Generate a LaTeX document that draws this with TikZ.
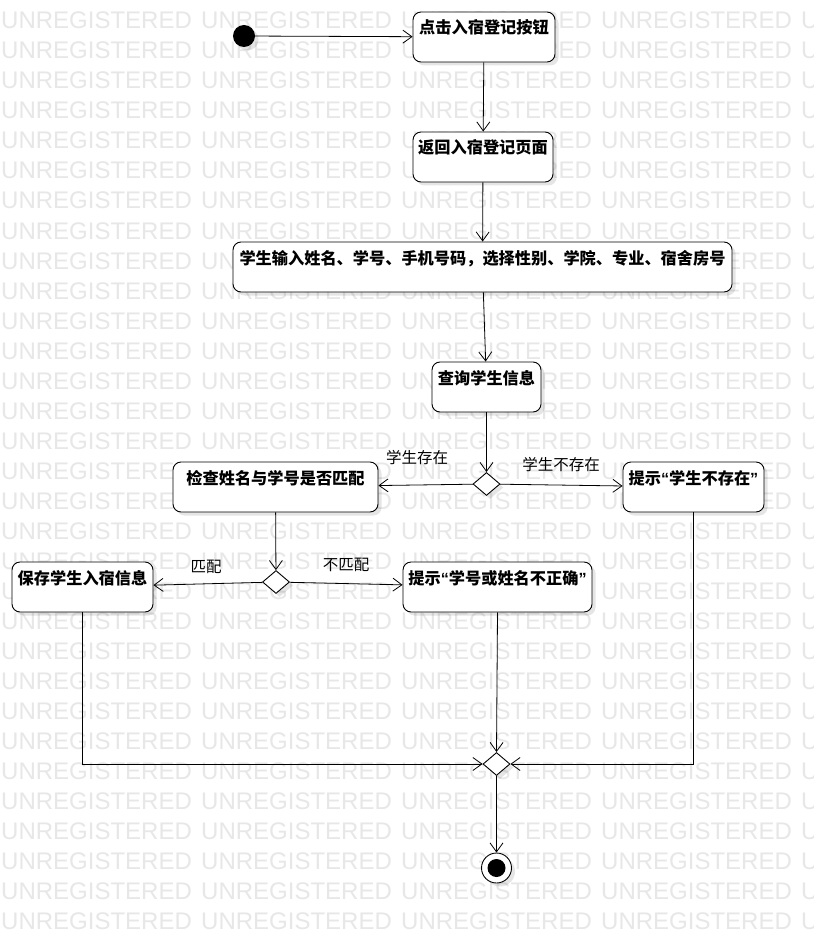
\documentclass[tikz,border=0pt]{standalone}
\usepackage{fontspec}
\setmainfont{Noto Sans CJK SC}
\newfontfamily\qf{Liberation Sans}
\newfontfamily\wmf{Liberation Sans}
\usetikzlibrary{arrows.meta,shapes.geometric,shadows}
\definecolor{wm}{RGB}{231,231,231}
\begin{document}
\begin{tikzpicture}[x=1pt,y=-1pt,
  shd/.style={drop shadow={shadow xshift=3.5pt,shadow yshift=-3.5pt,opacity=0.10,fill=black}},
  act/.style={draw=black,line width=0.9pt,fill=white,rounded corners=8pt,
    inner xsep=0pt,inner ysep=0pt,text height=22pt,text depth=28pt,
    minimum height=50pt,font=\fontsize{16.2}{19}\selectfont\bfseries,shd},
  dec/.style={diamond,draw=black,line width=0.9pt,fill=white,inner sep=0pt,
    minimum width=27pt,minimum height=23pt,shd},
  lbl/.style={inner sep=0pt,font=\fontsize{15.5}{18}\selectfont},
  arr/.style={line width=0.8pt,-{Straight Barb[length=9pt,width=13pt,line width=0.8pt]}},
  wmk/.style={anchor=base west,inner sep=0pt,text=wm,font=\wmf\fontsize{24}{24}\selectfont}
]
\useasboundingbox (0,0) rectangle (813,933);
\fill[white] (0,0) rectangle (813,933);
% watermark
\foreach \r in {0,...,30}{
  \foreach \c in {0,...,4}{
    \node[wmk] (w-\r-\c) at ({200*\c+1},{29+30*\r}) {UNREGISTERED};
  }
}
% nodes
\node[circle,fill=black,minimum size=22pt,inner sep=0pt,shd] (ini) at (244,36) {};
\node[act,minimum width=142pt] (a1) at (484,37) {点击入宿登记按钮};
\node[act,minimum width=140pt] (a2) at (483,157) {返回入宿登记页面};
\node[act,minimum width=499pt] (a3) at (482.5,267) {学生输入姓名、学号、手机号码，选择性别、学院、专业、宿舍房号};
\node[act,minimum width=109pt] (a4) at (486.5,387) {查询学生信息};
\node[dec] (d1) at (486.5,484) {};
\node[act,minimum width=205pt] (chk) at (275.5,487) {检查姓名与学号是否匹配};
\node[act,minimum width=141pt] (nex) at (693.5,487) {提示{\qf “}学生不存在{\qf ”}};
\node[dec] (d2) at (276,582) {};
\node[act,minimum width=141pt] (save) at (82.5,587) {保存学生入宿信息};
\node[act,minimum width=189pt] (wrong) at (497.5,587) {提示{\qf “}学号或姓名不正确{\qf ”}};
\node[dec] (m) at (496.5,764) {};
\node[circle,draw=black,line width=0.9pt,fill=white,minimum size=30pt,inner sep=0pt,shd] (fin) at (496.5,868) {};
\node[circle,fill=black,minimum size=18pt,inner sep=0pt] (fin-in) at (fin.center) {};
% labels
\node[lbl] (l1) at (417,458) {学生存在};
\node[lbl] (l2) at (561,465) {学生不存在};
\node[lbl] (l3) at (206,567) {匹配};
\node[lbl] (l4) at (346,565) {不匹配};
% connectors
\draw[arr] (ini) -- (a1);
\draw[arr] (a1) -- (a2);
\draw[arr] (a2) -- (a3);
\draw[arr] (a3) -- (a4);
\draw[arr] (a4) -- (d1);
\draw[arr] (d1) -- (chk);
\draw[arr] (d1) -- (nex);
\draw[arr] (chk) -- (d2);
\draw[arr] (d2) -- (save);
\draw[arr] (d2) -- (wrong);
\draw[arr] (save.south) |- (m.west);
\draw[arr] (nex.south) |- (m.east);
\draw[arr] (wrong.south) -- (m.north);
\draw[arr] (m) -- (fin);
\end{tikzpicture}
\end{document}
